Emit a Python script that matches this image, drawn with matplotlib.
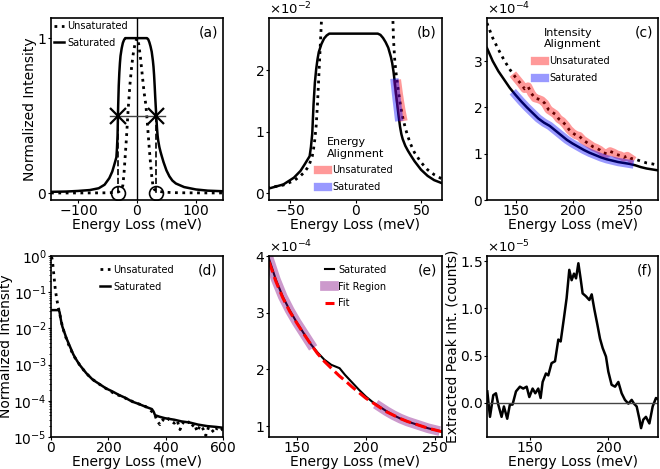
import numpy as np
import matplotlib
matplotlib.use("Agg")
import matplotlib.pyplot as plt
from matplotlib.ticker import MultipleLocator

# ---- (a)/(b) elastic peak, values in units of 1e-2 of the unsaturated peak ----
peak_energy = [-146, -120, -100, -80, -65, -55, -47, -42, -39, -37, -35, -34, -33, -32,
               -31, -30, -29, -28, -26, -24, -22, -20, -18, -15, -12, -9, -6, -3, 0,
               3, 6, 9, 12, 15, 17, 19, 21, 23, 25, 27, 28, 29, 30, 31, 32, 33, 34, 35,
               36, 38, 40, 42, 45, 50, 55, 60, 66, 80, 100, 120, 146]
sat_pct = [0.02, 0.025, 0.035, 0.05, 0.08, 0.14, 0.25, 0.36, 0.46, 0.53, 0.6, 0.75, 0.97, 1.45,
           1.8, 2.02, 2.18, 2.3, 2.43, 2.52, 2.57, 2.6, 2.6, 2.6, 2.6, 2.6, 2.6, 2.6, 2.6,
           2.6, 2.6, 2.6, 2.6, 2.6, 2.6, 2.58, 2.53, 2.46, 2.37, 2.22, 2.12, 1.98, 1.8, 1.6, 1.42, 1.24, 1.08, 0.96,
           0.88, 0.77, 0.69, 0.62, 0.52, 0.38, 0.28, 0.21, 0.16, 0.1, 0.06, 0.04, 0.03]
unsat_pct = [0.03, 0.04, 0.05, 0.07, 0.09, 0.13, 0.2, 0.28, 0.34, 0.4, 0.48, 0.54, 0.6, 0.72,
             0.88, 1.1, 1.45, 1.9, 2.8, 5, 13, 24, 35, 54, 70, 82, 91, 97, 100,
             96, 87, 76, 65, 57, 48, 38, 28, 19, 11, 5, 3.2, 2.5, 2.15, 1.95, 1.78, 1.62, 1.48, 1.35,
             1.24, 1.06, 0.92, 0.8, 0.66, 0.5, 0.38, 0.3, 0.23, 0.15, 0.1, 0.07, 0.05]
half_max_pos = [-32, 32]

# ---- (c) intensity alignment, units of 1e-4 ----
c_energy_sat = [125, 130, 135, 140, 145, 150, 155, 160, 165, 170, 175, 180, 185, 190, 195, 200,
                205, 210, 215, 220, 225, 230, 235, 240, 245, 250, 255, 260, 265, 270, 275]
c_sat = [3.28, 3.0, 2.78, 2.6, 2.42, 2.27, 2.13, 2.0, 1.88, 1.76, 1.67, 1.6, 1.5, 1.4, 1.3, 1.22,
         1.15, 1.08, 1.02, 0.97, 0.92, 0.88, 0.85, 0.82, 0.8, 0.78, 0.75, 0.71, 0.68, 0.66, 0.64]
c_energy_unsat = [125, 130, 135, 140, 145, 150, 155, 158, 161, 164, 167, 170, 173, 176, 179, 182,
                  185, 188, 191, 194, 197, 200, 203, 206, 209, 212, 215, 218, 221, 224, 227, 230,
                  233, 236, 239, 242, 245, 248, 251, 255, 260, 265, 270, 275]
c_unsat = [3.82, 3.5, 3.25, 3.02, 2.82, 2.65, 2.5, 2.4, 2.45, 2.3, 2.2, 2.18, 2.15, 2.08, 1.95, 1.9,
           1.85, 1.75, 1.7, 1.62, 1.52, 1.45, 1.4, 1.38, 1.3, 1.25, 1.2, 1.15, 1.12, 1.08, 1.02, 1.0,
           1.05, 1.02, 0.98, 0.96, 0.92, 0.95, 0.9, 0.88, 0.84, 0.8, 0.78, 0.75]

# ---- (d) full spectra, normalized ----
d_energy_sat = [0, 10, 20, 27, 30, 33, 36, 40, 45, 54, 65, 78, 90, 100, 123, 146, 169, 192, 215,
                237, 260, 283, 306, 329, 352, 358, 363, 380, 398, 430, 455, 485, 513, 545, 576, 600]
d_sat = [0.032, 0.032, 0.032, 0.032, 0.028, 0.02, 0.015, 0.011, 0.0085, 0.0053, 0.0033, 0.0019,
         0.0013, 0.00098, 0.00058, 0.00038, 0.00029, 0.00022, 0.00018, 0.000145, 0.00012,
         0.000095, 0.000082, 0.000069, 0.000059, 0.00005, 0.00004, 0.000036, 0.000033, 0.00003,
         0.000027, 0.000025, 0.000022, 0.00002, 0.000019, 0.000018]
d_energy_unsat = [2, 5, 10, 15, 20, 25, 30, 35, 40, 50, 60, 70, 80, 90, 100, 120, 140, 160, 180,
                  200, 220, 240, 260, 270, 280, 290, 300, 310, 320, 330, 340, 350, 360, 370, 380,
                  390, 400, 410, 420, 430, 440, 450, 460, 470, 480, 490, 500, 510, 520, 530, 540,
                  550, 560, 570, 580, 590, 600]
d_unsat = [0.95, 0.75, 0.3, 0.12, 0.065, 0.04, 0.026, 0.017, 0.011, 0.0062, 0.0038, 0.0025,
           0.0017, 0.0013, 0.00098, 0.00061, 0.00042, 0.00032, 0.00025, 0.0002, 0.00016,
           0.000138, 0.000118, 0.000105, 0.0001, 0.00009, 0.000085, 0.00008, 0.000072, 0.00007,
           0.00006, 0.000052, 0.000045, 0.000028, 0.000022, 0.00003, 0.000026, 0.000032,
           0.000027, 0.000024, 0.000029, 0.000016, 0.000025, 0.000022, 0.000026, 0.000019,
           0.000023, 0.000014, 0.000021, 0.000017, 0.000011, 0.000019, 0.000016, 0.000013,
           0.000018, 0.000015, 0.000017]

# ---- (e) background fit, units of 1e-4 ----
e_energy = [130, 135, 140, 145, 150, 155, 160, 165, 170, 175, 178, 181, 185, 190, 195, 200,
            205, 210, 215, 220, 225, 230, 235, 240, 245, 250, 255]
e_sat = [3.95, 3.58, 3.28, 3.04, 2.83, 2.64, 2.45, 2.3, 2.17, 2.08, 2.05, 2.02, 1.9, 1.77, 1.64,
         1.52, 1.42, 1.34, 1.26, 1.19, 1.13, 1.08, 1.04, 1.0, 0.96, 0.93, 0.9]
e_fit = [3.9, 3.55, 3.26, 3.02, 2.82, 2.63, 2.45, 2.28, 2.14, 2.02, 1.95, 1.88, 1.8, 1.69, 1.59,
         1.49, 1.41, 1.33, 1.25, 1.19, 1.13, 1.08, 1.04, 1.0, 0.96, 0.93, 0.9]
fit_regions = [(130, 160), (210, 250)]

# ---- (f) extracted peak, units of 1e-5 ----
f_energy = [122.8, 124.5, 126.6, 128.3, 129.8, 131.9, 133.4, 135.5, 137.2, 138.9, 141.1, 143.6,
            145.7, 147.9, 149.6, 151.7, 153.4, 155.3, 156.8, 158.1, 160.2, 161.7, 163.8, 166.0,
            168.1, 169.6, 171.7, 173.4, 175.1, 176.6, 178.1, 179.4, 180.9, 182.3, 183.6, 185.7,
            187.9, 189.4, 191.1, 193.0, 194.7, 196.4, 198.5, 200.0, 202.1, 204.3, 206.4, 208.5,
            210.6, 212.8, 214.9, 216.4, 218.1, 219.8, 220.9, 222.3, 224.0, 226.2, 228.3, 230.4, 232.6]
f_peak = [0.12, -0.15, 0.08, 0.1, -0.02, -0.15, -0.04, -0.17, -0.02, -0.02, 0.12, 0.17,
          0.15, 0.17, 0.06, 0.15, 0.1, 0.15, 0.05, 0.22, 0.31, 0.29, 0.42, 0.44,
          0.67, 0.65, 0.9, 1.11, 1.41, 1.3, 1.37, 1.32, 1.48, 1.32, 1.16, 1.13,
          1.09, 1.15, 0.99, 0.83, 0.68, 0.58, 0.49, 0.33, 0.19, 0.17, 0.22, 0.1,
          0.03, -0.01, 0.03, -0.01, -0.04, -0.17, -0.27, -0.18, -0.15, -0.22, -0.04, 0.05, 0.03]

plt.rcParams["font.family"] = "DejaVu Sans"
plt.rcParams["font.size"] = 10
plt.rcParams["axes.linewidth"] = 1.2
plt.rcParams["axes.labelpad"] = 0.0
plt.rcParams["axes.formatter.use_mathtext"] = True
for a in ("xtick", "ytick"):
    plt.rcParams[a + ".major.size"] = 2.2
    plt.rcParams[a + ".major.pad"] = 0.8
    plt.rcParams[a + ".minor.size"] = 1.5
    plt.rcParams[a + ".minor.pad"] = 0.8

fig = plt.figure(figsize=(6.6, 4.69), dpi=100)
W, H = 660.0, 469.0
lefts = [51, 269, 487]
widths = [172, 173, 171]
row_top = [(18, 200), (256, 437)]
axes = []
for top, bot in row_top:
    for l, w in zip(lefts, widths):
        axes.append(fig.add_axes([l / W, (H - bot) / H, w / W, (bot - top) / H]))
ax_a, ax_b, ax_c, ax_d, ax_e, ax_f = axes

E = np.array(peak_energy)
sat = np.array(sat_pct) * 1e-2
unsat = np.array(unsat_pct) * 1e-2
leg_kw = dict(frameon=False, fontsize=7, handlelength=1.0, handletextpad=0.4, labelspacing=0.7)

# (a)
ax_a.plot(E, unsat, ":", color="k", lw=2, label="Unsaturated")
ax_a.plot(E, sat / sat.max(), "-", color="k", lw=1.8, label="Saturated")
ax_a.axvline(0, color="k", lw=1)
ax_a.plot([-45, 47], [0.5, 0.5], color="#444444", lw=1)
for xp in half_max_pos:
    ax_a.plot([xp, xp], [0.5, 0.0], "--", color="k", lw=1.2)
    ax_a.plot(xp, 0.5, "x", color="k", ms=11, mew=1.6)
    ax_a.plot(xp, 0.0, "o", mfc="none", mec="k", ms=10, mew=1.2)
ax_a.set_xlim(-146, 146)
ax_a.set_ylim(-0.045, 1.13)
ax_a.set_yticks([0, 1])
ax_a.set_xticks([-100, 0, 100])
ax_a.set_xlabel("Energy Loss (meV)")
ax_a.set_ylabel("Normalized Intensity")
ax_a.legend(loc="upper left", borderaxespad=0.1, borderpad=0.2, **leg_kw)

# (b)
ax_b.plot(E, unsat, ":", color="k", lw=2)
ax_b.plot(E, sat, "-", color="k", lw=1.8)
mr = (E >= 32) & (E <= 36)
mb = (E >= 30) & (E <= 33)
ax_b.plot(E[mr], unsat[mr], color="red", alpha=0.4, lw=6, label="Unsaturated")
ax_b.plot(E[mb], sat[mb], color="blue", alpha=0.4, lw=6, label="Saturated")
ax_b.set_xlim(-66, 66)
ax_b.set_ylim(-0.00114, 0.02855)
ax_b.set_xticks([-50, 0, 50])
ax_b.yaxis.set_major_locator(MultipleLocator(0.01))
ax_b.ticklabel_format(axis="y", style="sci", scilimits=(0, 0), useMathText=True)
ax_b.set_xlabel("Energy Loss (meV)")
ax_b.legend(loc="lower center", title="Energy\nAlignment", title_fontsize=8,
            borderaxespad=0.4, **leg_kw)

# (c)
cxs = np.array(c_energy_sat)
cys = np.array(c_sat) * 1e-4
cxu = np.array(c_energy_unsat)
cyu = np.array(c_unsat) * 1e-4
ax_c.plot(cxu, cyu, ":", color="k", lw=2)
ax_c.plot(cxs, cys, "-", color="k", lw=1.8)
mu = (cxu >= 150) & (cxu <= 251)
ms_ = (cxs >= 150) & (cxs <= 250)
ax_c.plot(cxu[mu], cyu[mu], color="red", alpha=0.4, lw=6, label="Unsaturated")
ax_c.plot(cxs[ms_], cys[ms_], color="blue", alpha=0.4, lw=6, label="Saturated")
ax_c.set_xlim(125, 275)
ax_c.set_ylim(0, 3.93e-4)
ax_c.set_xticks([150, 200, 250])
ax_c.ticklabel_format(axis="y", style="sci", scilimits=(0, 0), useMathText=True)
ax_c.set_xlabel("Energy Loss (meV)")
ax_c.legend(loc="upper center", title="Intensity\nAlignment", title_fontsize=8,
            borderaxespad=0.6, **leg_kw)

# (d)
ax_d.plot(d_energy_unsat, d_unsat, ":", color="k", lw=2, label="Unsaturated")
ax_d.plot(d_energy_sat, d_sat, "-", color="k", lw=1.8, label="Saturated")
ax_d.set_yscale("log")
ax_d.set_xlim(0, 600)
ax_d.set_ylim(1e-5, 1)
ax_d.set_xticks([0, 200, 400, 600])
ax_d.set_xlabel("Energy Loss (meV)")
ax_d.set_ylabel("Normalized Intensity", labelpad=0)
ax_d.legend(loc="upper center", borderaxespad=0.5, **leg_kw)

# (e)
ex = np.array(e_energy)
ey = np.array(e_sat) * 1e-4
ax_e.plot(ex, ey, "-", color="k", lw=1.5, label="Saturated")
for i, (lo, hi) in enumerate(fit_regions):
    m = (ex >= lo) & (ex <= hi)
    ax_e.plot(ex[m], ey[m], color="purple", alpha=0.4, lw=7,
              label="Fit Region" if i == 0 else None)
ax_e.plot(ex, np.array(e_fit) * 1e-4, "--", color="red", lw=2.2, label="Fit")
ax_e.set_xlim(130, 255)
ax_e.set_ylim(0.806e-4, 4.0e-4)
ax_e.set_xticks([150, 200, 250])
ax_e.ticklabel_format(axis="y", style="sci", scilimits=(0, 0), useMathText=True)
ax_e.set_xlabel("Energy Loss (meV)")
ax_e.legend(loc="upper center", borderaxespad=0.5, **leg_kw)

# (f)
ax_f.plot(f_energy, np.array(f_peak) * 1e-5, "-", color="k", lw=1.8)
ax_f.axhline(0, color="#444444", lw=1)
ax_f.set_xlim(122.6, 231.7)
ax_f.set_ylim(-0.364e-5, 1.557e-5)
ax_f.set_xticks([150, 200])
ax_f.set_yticks([0, 0.5e-5, 1.0e-5, 1.5e-5])
ax_f.ticklabel_format(axis="y", style="sci", scilimits=(0, 0), useMathText=True)
ax_f.set_xlabel("Energy Loss (meV)")
ax_f.set_ylabel("Extracted Peak Int. (counts)", labelpad=0)

for ax, lab in zip(axes, "abcdef"):
    ax.yaxis.get_offset_text().set_fontsize(9.5)
    ax.text(0.97, 0.96, "(%s)" % lab, transform=ax.transAxes, ha="right", va="top", fontsize=10)

fig.savefig("out.png", dpi=100)
